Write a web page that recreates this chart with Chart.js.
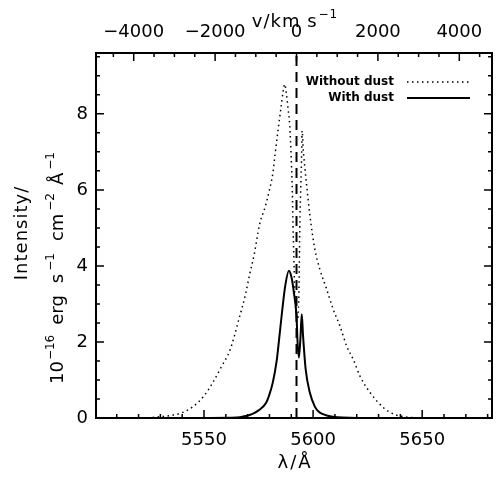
<!DOCTYPE html>
<html>
<head>
<meta charset="utf-8">
<script src="https://cdn.jsdelivr.net/npm/chart.js@4/dist/chart.umd.min.js"></script>
<style>
  html, body { margin: 0; padding: 0; background: #fff; }
</style>
</head>
<body>
<canvas id="lineProfile" width="496" height="477"></canvas>
<script>
// line profile, wavelength in A, flux in 1e-16 erg/s/cm2/A
var lamNoDust = [5515, 5525, 5531, 5536, 5540, 5545, 5550, 5554, 5558, 5562, 5566, 5569, 5571, 5573, 5575.5,
  5578, 5580, 5581.6, 5582.6, 5584, 5585.4, 5586.2, 5587.0, 5587.7, 5588.5, 5589.3, 5590.0, 5590.5, 5590.8,
  5591.2, 5591.6, 5592.1, 5592.7, 5593.2, 5593.6, 5593.9, 5594.3, 5594.7, 5595.0, 5595.5, 5596.2, 5597.0,
  5598.5, 5600.8, 5603.1, 5606.2, 5609.2, 5612.3, 5615.4, 5618.4, 5621.5, 5626.1, 5632.3, 5637, 5641, 5646, 5655];
var fluxNoDust = [0, 0.01, 0.04, 0.08, 0.14, 0.3, 0.58, 0.93, 1.35, 1.8, 2.6, 3.25, 3.8, 4.3, 5.1,
  5.55, 6.0, 6.45, 6.95, 7.6, 8.21, 8.56, 8.78, 8.56, 8.15, 7.68, 6.8, 5.93, 5.05,
  4.18, 3.3, 2.8, 2.6, 2.75, 3.6, 5.0, 5.95, 6.8, 7.55, 7.05, 6.6, 6.15,
  5.35, 4.44, 3.91, 3.39, 2.86, 2.42, 1.89, 1.54, 1.1, 0.67, 0.27, 0.1, 0.04, 0.01, 0];

var lamDust = [5550, 5565, 5569.5, 5572, 5575, 5578.5, 5580, 5581.6, 5583.3, 5584.3, 5585.9, 5587.3, 5588.9,
  5590.1, 5591.2, 5592.4, 5592.9, 5593.5, 5594.2, 5594.8, 5595.4, 5596.6, 5598.5, 5600.8, 5602.5, 5604.5,
  5609, 5620, 5682];
var fluxDust = [0, 0.01, 0.06, 0.1, 0.2, 0.4, 0.62, 0.95, 1.5, 2.0, 2.86, 3.5, 3.87,
  3.7, 3.3, 2.68, 1.98, 1.59, 2.1, 2.73, 2.16, 1.28, 0.67, 0.3, 0.17, 0.1,
  0.03, 0, 0];

var restLam = 5592.4;
var lamTicks = [5550, 5600, 5650];
var velTicks = [-4000, -2000, 0, 2000, 4000];
var fluxTicks = [0, 2, 4, 6, 8];
var legendLabels = ['Without dust', 'With dust'];

var C_KMS = 299792.458;
var xMin = 5500.5, xMax = 5682, yMax = 9.6;
var FONT = '"DejaVu Sans", sans-serif';

function vel(lam) { return (lam / restLam - 1) * C_KMS; }
function toXY(xs, ys) { return xs.map(function (x, i) { return {x: x, y: ys[i]}; }); }
function fmt(v) { return v < 0 ? '\u2212' + Math.abs(v) : String(v); }

// superscripts drawn by hand, IDL style
function drawRich(ctx, parts, cx, cy, size, spacing) {
  ctx.letterSpacing = (spacing || 0) + 'px';
  function fontOf(p) { return (p.sup ? Math.round(size * 0.66) : size) + 'px ' + FONT; }
  var w = 0;
  parts.forEach(function (p) {
    ctx.font = fontOf(p);
    w += (p.pre || 0) + ctx.measureText(p.t).width;
  });
  var x = cx - w / 2;
  ctx.textAlign = 'left';
  ctx.textBaseline = 'alphabetic';
  parts.forEach(function (p) {
    ctx.font = fontOf(p);
    x += p.pre || 0;
    ctx.fillText(p.t, x, cy + size * 0.36 - (p.sup ? size * 0.5 : 0));
    x += ctx.measureText(p.t).width;
  });
  ctx.letterSpacing = '0px';
}

var frameTicks = {
  id: 'frameTicks',
  afterDatasetsDraw: function (chart) {
    var ctx = chart.ctx, a = chart.chartArea, s = chart.scales;
    ctx.save();
    ctx.strokeStyle = '#000';
    ctx.lineWidth = 2;
    ctx.strokeRect(a.left, a.top, a.right - a.left, a.bottom - a.top);
    ctx.lineWidth = 1.5;
    ctx.beginPath();
    var v, px, len;
    for (v = 5510; v < xMax; v += 10) {
      px = s.x.getPixelForValue(v);
      len = v % 50 === 0 ? 8 : 4;
      ctx.moveTo(px, a.bottom); ctx.lineTo(px, a.bottom - len);
    }
    for (v = -4500; v <= 4500; v += 500) {
      px = s.x2.getPixelForValue(v);
      if (px <= a.left || px >= a.right) continue;
      len = v % 2000 === 0 ? 8 : 4;
      ctx.moveTo(px, a.top); ctx.lineTo(px, a.top + len);
    }
    for (v = 0.5; v < yMax; v += 0.5) {
      px = s.y.getPixelForValue(v);
      len = v % 2 === 0 ? 8 : 4;
      ctx.moveTo(a.left, px); ctx.lineTo(a.left + len, px);
      ctx.moveTo(a.right, px); ctx.lineTo(a.right - len, px);
    }
    ctx.stroke();
    ctx.restore();
  }
};

var titles = {
  id: 'titles',
  afterDraw: function (chart) {
    var ctx = chart.ctx;
    ctx.save();
    ctx.fillStyle = '#000';
    drawRich(ctx, [{t: 'v/km s'}, {t: '\u22121', sup: true, pre: 1}], 295, 21, 18, 1);
    drawRich(ctx, [{t: '\u03bb/\u00c5'}], 295, 462, 18, 2);
    ctx.translate(21, 233);
    ctx.rotate(-Math.PI / 2);
    drawRich(ctx, [{t: 'Intensity/'}], 0, 0, 18, 1);
    ctx.restore();
    ctx.save();
    ctx.fillStyle = '#000';
    ctx.translate(57, 268);
    ctx.rotate(-Math.PI / 2);
    drawRich(ctx, [{t: '10'}, {t: '\u221216', sup: true, pre: 1}, {t: 'erg', pre: 10}, {t: 's', pre: 12},
      {t: '\u22121', sup: true, pre: 3}, {t: 'cm', pre: 12}, {t: '\u22122', sup: true, pre: 3},
      {t: '\u00c5', pre: 8}, {t: '\u22121', sup: true, pre: 3}], 0, 0, 18, 0);
    ctx.restore();
  }
};

var legendBox = {
  id: 'legendBox',
  afterDraw: function (chart) {
    var ctx = chart.ctx;
    ctx.save();
    ctx.fillStyle = '#000';
    ctx.strokeStyle = '#000';
    ctx.font = 'bold 12px ' + FONT;
    ctx.textAlign = 'right';
    ctx.textBaseline = 'middle';
    ctx.fillText(legendLabels[0], 394, 82);
    ctx.fillText(legendLabels[1], 394, 98);
    ctx.lineWidth = 1.5;
    ctx.setLineDash([1.5, 3.5]);
    ctx.beginPath(); ctx.moveTo(407, 82); ctx.lineTo(470, 82); ctx.stroke();
    ctx.lineWidth = 2;
    ctx.setLineDash([]);
    ctx.beginPath(); ctx.moveTo(407, 98); ctx.lineTo(470, 98); ctx.stroke();
    ctx.restore();
  }
};

var tickFont = {family: FONT, size: 18};

new Chart(document.getElementById('lineProfile').getContext('2d'), {
  type: 'line',
  data: {
    datasets: [{
      label: legendLabels[0],
      data: toXY(lamNoDust, fluxNoDust),
      borderColor: '#000',
      borderWidth: 1.5,
      borderDash: [1.5, 3.5],
      pointRadius: 0,
      cubicInterpolationMode: 'monotone'
    }, {
      label: legendLabels[1],
      data: toXY(lamDust, fluxDust),
      borderColor: '#000',
      borderWidth: 2,
      pointRadius: 0,
      cubicInterpolationMode: 'monotone'
    }, {
      label: 'rest',
      data: [{x: restLam, y: 0}, {x: restLam, y: yMax}],
      borderColor: '#000',
      borderWidth: 2,
      borderDash: [10, 6],
      pointRadius: 0
    }]
  },
  options: {
    responsive: false,
    animation: false,
    events: [],
    layout: {padding: {left: 0, right: 4, top: 0, bottom: 0}},
    plugins: {legend: {display: false}, tooltip: {enabled: false}},
    scales: {
      x: {
        type: 'linear', position: 'bottom', min: xMin, max: xMax,
        afterBuildTicks: function (s) { s.ticks = lamTicks.map(function (v) { return {value: v}; }); },
        afterFit: function (s) { s.height = 59; },
        grid: {display: false, drawTicks: false},
        border: {display: false},
        ticks: {color: '#000', font: tickFont, padding: 12, maxRotation: 0, callback: fmt}
      },
      x2: {
        type: 'linear', position: 'top', min: vel(xMin), max: vel(xMax),
        afterBuildTicks: function (s) { s.ticks = velTicks.map(function (v) { return {value: v}; }); },
        afterFit: function (s) { s.height = 53; },
        grid: {display: false, drawTicks: false},
        border: {display: false},
        ticks: {color: '#000', font: tickFont, padding: 10, maxRotation: 0, callback: fmt}
      },
      y: {
        type: 'linear', position: 'left', min: 0, max: yMax,
        afterBuildTicks: function (s) { s.ticks = fluxTicks.map(function (v) { return {value: v}; }); },
        afterFit: function (s) { s.width = 96; },
        grid: {display: false, drawTicks: false},
        border: {display: false},
        ticks: {color: '#000', font: tickFont, padding: 8, callback: fmt}
      }
    }
  },
  plugins: [frameTicks, titles, legendBox]
});
</script>
</body>
</html>
